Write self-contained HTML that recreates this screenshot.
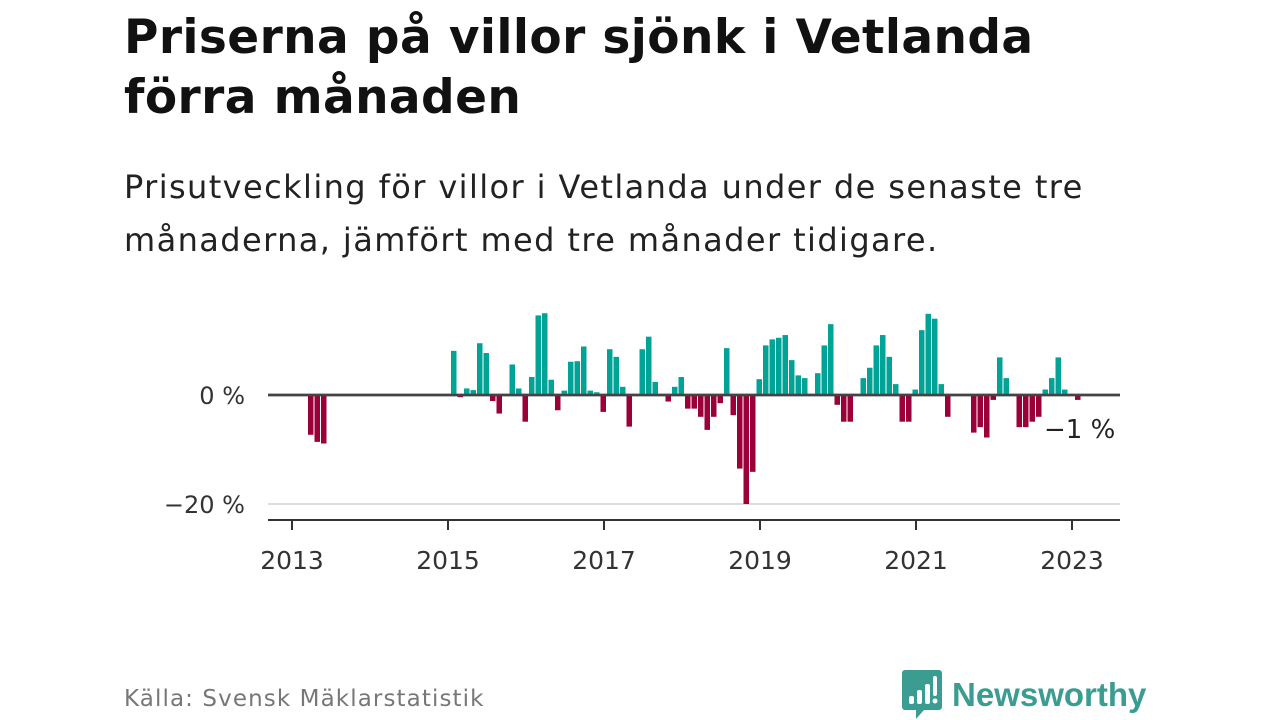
<!DOCTYPE html>
<html><head><meta charset="utf-8">
<style>
body{margin:0;width:1280px;height:720px;background:#fff;font-family:"DejaVu Sans","Liberation Sans",sans-serif;overflow:hidden;position:relative}
.t{position:absolute;left:124px;top:8px;font-size:47px;font-weight:bold;color:#111;line-height:60px;margin:0;letter-spacing:0.4px}
.s{position:absolute;left:124px;top:161px;font-size:32px;color:#222;line-height:53px;margin:0;letter-spacing:1.4px}
.src{position:absolute;left:124px;top:686px;font-size:23px;color:#777;letter-spacing:1.1px}
.logo{position:absolute;left:902px;top:670px;display:flex;align-items:center}
.logo span{font-size:33px;font-weight:bold;color:#3b9d91;margin-left:10px;font-family:"Liberation Sans",sans-serif}
svg text{font-family:"DejaVu Sans","Liberation Sans",sans-serif}
</style></head><body>
<h1 class="t">Priserna på villor sjönk i Vetlanda<br>förra månaden</h1>
<p class="s">Prisutveckling för villor i Vetlanda under de senaste tre<br>månaderna, jämfört med tre månader tidigare.</p>
<svg id="chart" width="1280" height="720" style="position:absolute;left:0;top:0"></svg>
<div class="src">Källa: Svensk Mäklarstatistik</div>
<div class="logo">
<svg width="40" height="50" viewBox="0 0 40 50"><path d="M3 0h34a3 3 0 0 1 3 3v34a3 3 0 0 1-3 3H22L14 49V40H3a3 3 0 0 1-3-3V3a3 3 0 0 1 3-3z" fill="#3b9d91"/><rect x="7" y="26" width="5" height="8" rx="2" fill="#fff"/><rect x="15" y="20" width="5" height="14" rx="2" fill="#fff"/><rect x="23" y="14" width="5" height="20" rx="2" fill="#fff"/><rect x="31" y="6" width="4" height="20" rx="2" fill="#fff"/><circle cx="33" cy="31" r="2.5" fill="#fff"/></svg>
<span>Newsworthy</span></div>
<script>
const startMonths2013=[2,3,4];
const values2013=[-7.3,-8.6,-8.9];
const values2015=[8.1,-0.4,1.2,0.9,9.5,7.7,-1.1,-3.4,0,5.6,1.2,-4.9,3.3,14.6,15.0,2.8,-2.8,0.8,6.1,6.2,8.9,0.8,0.5,-3.1,8.4,7.0,1.5,-5.8,0,8.4,10.7,2.4,0,-1.2,1.5,3.3,-2.5,-2.5,-4.0,-6.4,-4.0,-1.5,8.6,-3.7,-13.5,-20,-14.1,2.9,9.1,10.2,10.5,11.0,6.4,3.6,3.1,0,4.0,9.1,13.0,-1.8,-4.9,-4.9,0,3.1,5.0,9.1,11.0,7.0,2.0,-4.9,-4.9,1.0,11.9,14.9,14.0,2.0,-4.0,0,0,0,-6.9,-5.9,-7.8,-0.9,6.9,3.1,0,-5.9,-5.9,-4.9,-4.0,1.0,3.1,6.9,1.0,0,-0.9];
const yTicks=[0,-20];
const yTickLabels=["0 %","−20 %"];
const xYears=[2013,2015,2017,2019,2021,2023];
const lastLabel="−1 %";
const NS="http://www.w3.org/2000/svg";
const svg=document.getElementById('chart');
const x=m=>292+m*6.5;
const y=v=>395-v*5.45;
function mk(t,a){const e=document.createElementNS(NS,t);for(const k in a)e.setAttribute(k,a[k]);svg.appendChild(e);return e;}
yTicks.forEach((v,i)=>{
  const l=mk('line',{x1:268,x2:1120,y1:y(v),y2:y(v),stroke:v===0?'#444':'#ddd','stroke-width':v===0?2.5:2});
  
  
  const t=mk('text',{x:245,y:y(v)+9,'text-anchor':'end','font-size':24,fill:'#333'});
  t.textContent=yTickLabels[i];
  
  
});
function bar(m,v){
  if(!v)return;
  const r=mk('rect',{x:x(m)+3,width:5.5,y:v>0?y(v):y(0),height:Math.abs(v)*5.45,fill:v>0?'#00a396':'#9b0038'});
  
  
}
startMonths2013.forEach((m,i)=>bar(m,values2013[i]));
values2015.forEach((v,i)=>bar(24+i,v));
const z=mk('line',{x1:268,x2:1120,y1:y(0),y2:y(0),stroke:'#444','stroke-width':2.5});


const ax=mk('line',{x1:268,x2:1120,y1:520,y2:520,stroke:'#333','stroke-width':2});


xYears.forEach(yr=>{
  const px=x((yr-2013)*12);
  const tk=mk('line',{x1:px,x2:px,y1:520,y2:530,stroke:'#333','stroke-width':2});
  
  
  const t=mk('text',{x:px,y:569,'text-anchor':'middle','font-size':25,fill:'#333'});
  t.textContent=yr;
  
  
});
const lastV=values2015[values2015.length-1];
const lt=mk('text',{x:1044,y:y(lastV)+38,'font-size':26,fill:'#222'});
lt.textContent=lastLabel;


</script>
</body></html>
